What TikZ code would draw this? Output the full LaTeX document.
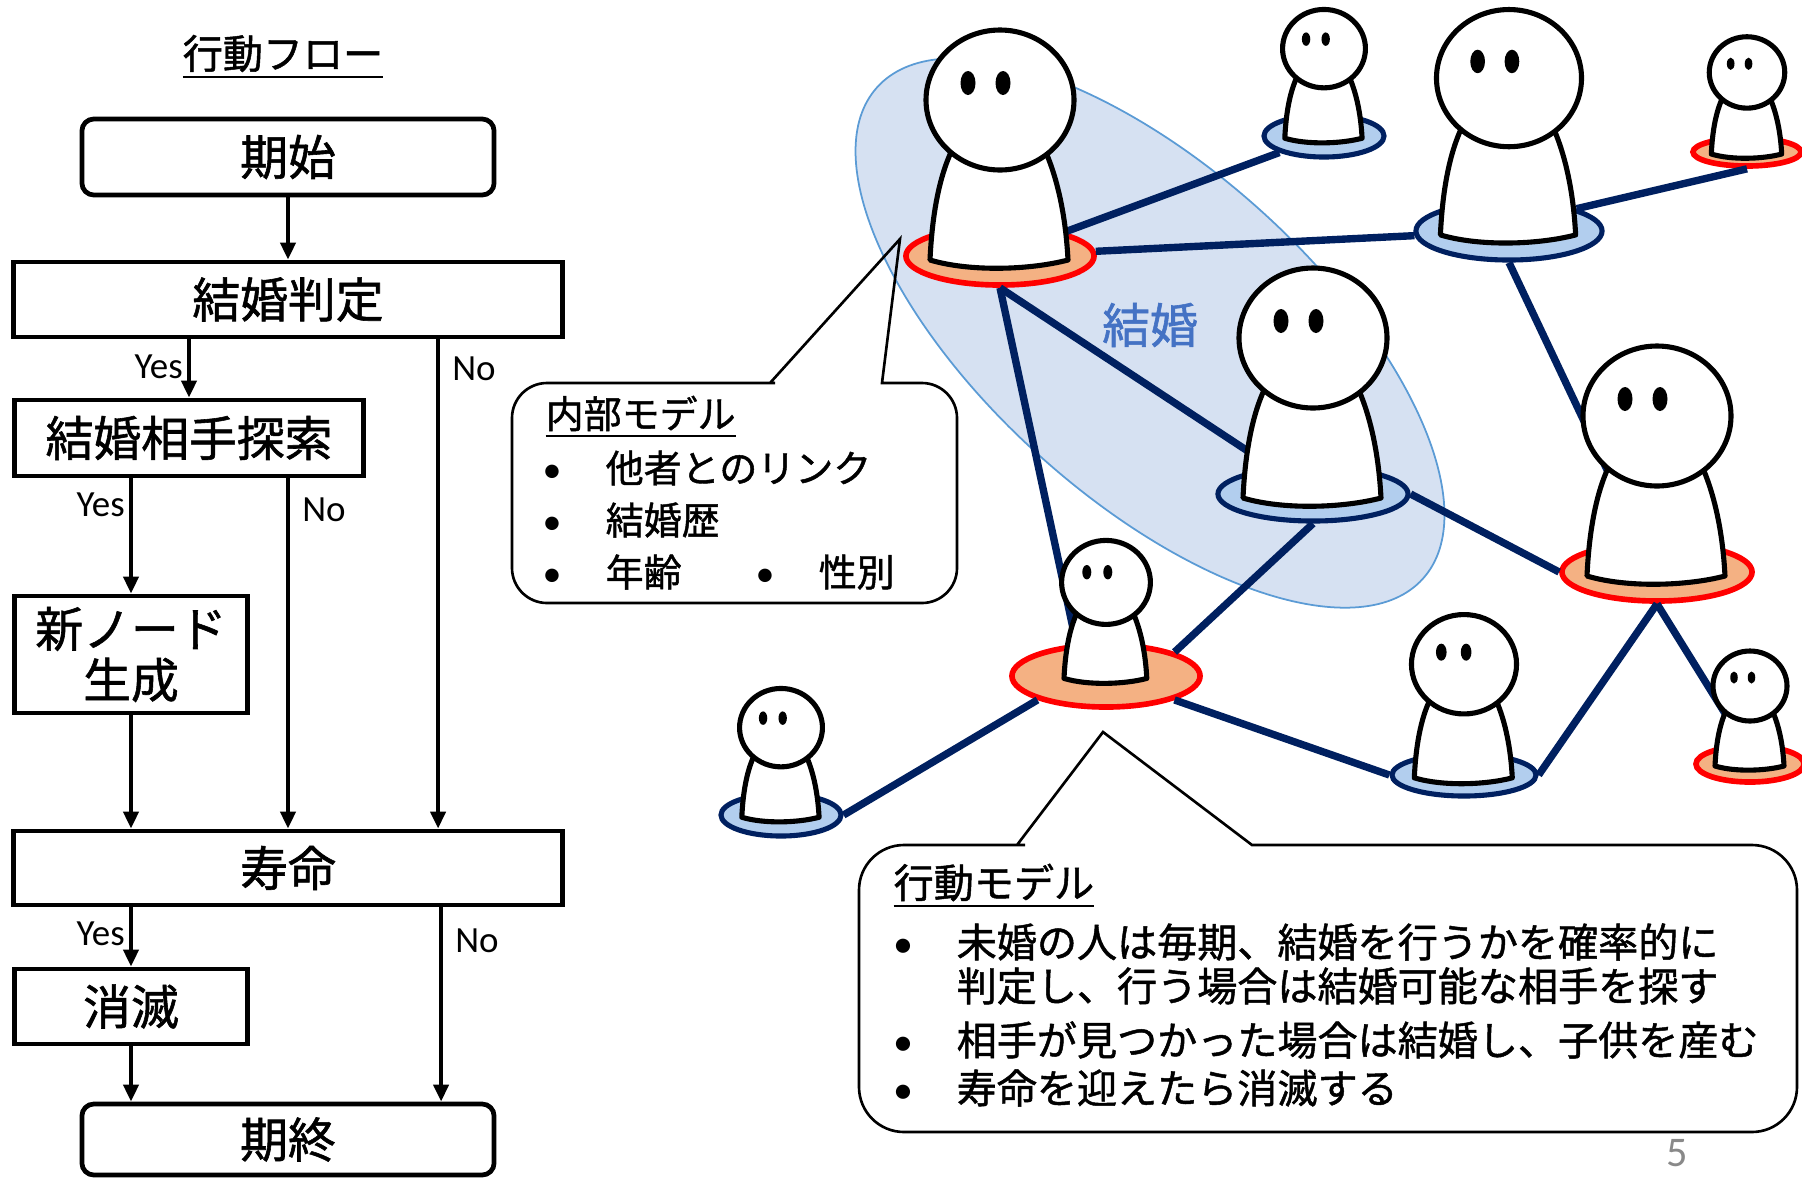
\documentclass[tikz,border=0pt]{standalone}
\usepackage{fontspec}
\setmainfont{Noto Sans CJK JP}[FakeBold=1.2]
\newfontfamily\calfont{Carlito}
\usepackage{tikz}
\usetikzlibrary{arrows.meta, shapes.geometric, calc}

\pgfdeclarelayer{front}
\pgfsetlayers{main,front}

\definecolor{navy}{RGB}{0,32,96}
\definecolor{baseblue}{RGB}{178,206,238}
\definecolor{baseorange}{RGB}{244,177,131}
\definecolor{couplefill}{RGB}{214,225,242}
\definecolor{coupleline}{RGB}{91,155,213}
\definecolor{coupletext}{RGB}{68,114,196}
\definecolor{pagegray}{RGB}{137,137,137}

% 箇条書きの点
\newcommand{\blt}{\makebox[0.63cm][l]{\calfont\textbullet}}

% 人: 番号, x, y, 大きさ, 土台の半径 x, y, 土台のスタイル
\newcommand{\person}[7]{%
  \node[#7, minimum width=#5*0.02cm, minimum height=#6*0.02cm] (b#1) at (#2,#3) {};
  \begin{pgfonlayer}{front}
  \begin{scope}[shift={(#2,#3)}, scale=#4]
    \coordinate (n#1) at (-48,-98);
    \fill[white] (-70,4) .. controls (-68,-40) and (-61,-80) .. (-47,-108)
      -- (44,-108) .. controls (59,-75) and (66,-35) .. (68,4)
      .. controls (30,14) and (-30,16) .. (-70,4) -- cycle;
    \draw[outline] (-47,-108) .. controls (-61,-80) and (-68,-40) .. (-70,4)
      .. controls (-30,16) and (30,14) .. (68,4)
      .. controls (66,-35) and (59,-75) .. (44,-108);
    \draw[outline, fill=white] (0,-156) ellipse [x radius=74, y radius=70];
    \fill (-32,-173) ellipse [x radius=7.5, y radius=12];
    \fill (3,-173) ellipse [x radius=7.5, y radius=12];
  \end{scope}
  \end{pgfonlayer}}

\begin{document}
\begin{tikzpicture}[x=0.01cm, y=-0.01cm,
    flowbox/.style={draw, line width=1.35pt, align=center, inner sep=0pt,
      font=\fontsize{13.6}{14.5}\selectfont},
    flow/.style={line width=1.15pt, -{Triangle[length=0.17cm, width=0.15cm]}},
    yn/.style={font=\calfont\fontsize{10.5}{12}\selectfont, inner sep=1.2pt},
    link/.style={navy, line width=2.1pt},
    outline/.style={line width=1.45pt, line join=round},
    singlebase/.style={ellipse, draw=navy, fill=baseblue, line width=1.45pt, inner sep=0pt},
    marriedbase/.style={ellipse, draw=red, fill=baseorange, line width=1.6pt, inner sep=0pt},
    balloon/.style={line width=0.75pt},
    note/.style={anchor=west, inner sep=0pt, font=\fontsize{10.8}{13}\selectfont},
    note2/.style={anchor=west, inner sep=0pt, font=\fontsize{11.4}{13}\selectfont}]
  \useasboundingbox (0,0) rectangle (1802,1184);

  % フローチャート
  \node[font=\fontsize{11.4}{12}\selectfont] (title) at (283,57) {\underline{行動フロー}};
  \node[flowbox, rounded corners=0.12cm, minimum width=4.12cm, minimum height=0.76cm] (start) at (288,157) {期始};
  \node[flowbox, minimum width=5.49cm, minimum height=0.75cm] (judge) at (288,299.5) {結婚判定};
  \node[flowbox, minimum width=3.49cm, minimum height=0.76cm] (search) at (189,438) {結婚相手探索};
  \node[flowbox, minimum width=2.33cm, minimum height=1.17cm] (newnode) at (131,654.5) {新ノード\\生成};
  \node[flowbox, minimum width=5.49cm, minimum height=0.74cm] (life) at (288,868) {寿命};
  \node[flowbox, minimum width=2.33cm, minimum height=0.75cm] (vanish) at (131,1006.5) {消滅};
  \node[flowbox, rounded corners=0.12cm, minimum width=4.12cm, minimum height=0.71cm] (finish) at (288,1139.5) {期終};

  \draw[flow] (start) -- (judge);
  \draw[flow] (judge.south -| search) -- node[yn, left, pos=0.47] {Yes} (search);
  \draw[flow] ([xshift=1.5cm]judge.south) -- node[yn, right=0.08cm, pos=0.06] {No} ([xshift=1.5cm]life.north);
  \draw[flow] (search.south -| newnode) -- node[yn, left, pos=0.23] {Yes} (newnode);
  \draw[flow] (search.south -| life) -- node[yn, right=0.08cm, pos=0.09] {No} (life);
  \draw[flow] (newnode) -- (newnode |- life.north);
  \draw[flow] (life.south -| vanish) -- node[yn, left, pos=0.45] {Yes} (vanish);
  \draw[flow] ([xshift=1.53cm]life.south) -- node[yn, right=0.08cm, pos=0.17] {No} ([xshift=1.53cm]finish.north);
  \draw[flow] (vanish) -- (vanish |- finish.north);

  % 結婚の範囲
  \node[ellipse, rotate=-42, draw=coupleline, fill=couplefill, line width=0.5pt,
    minimum width=7.34cm, minimum height=3.3cm] (couple) at (1150,333) {};
  \node[font=\fontsize{13.6}{14}\selectfont, text=coupletext] (wed) at (1150,325) {結婚};

  % 人と土台
  \person{1}{1000}{256}{1}{94}{29}{marriedbase}
  \person{2}{1324}{136}{0.56}{60}{21}{singlebase}
  \person{3}{1509}{231}{0.98}{93}{29}{singlebase}
  \person{4}{1747}{152}{0.51}{54}{14}{marriedbase}
  \person{5}{1313}{494}{1}{95}{27}{singlebase}
  \person{6}{1657}{572}{1}{95}{29}{marriedbase}
  \person{7}{1106}{676}{0.6}{94}{31}{marriedbase}
  \person{8}{781}{815}{0.56}{60}{21}{singlebase}
  \person{9}{1464}{775}{0.71}{72}{21}{singlebase}
  \person{10}{1750}{764}{0.5}{54}{18}{marriedbase}

  % リンク
  \draw[link] (b1) -- (b2);
  \draw[link] (b1) -- (b3);
  \draw[link] (b1.south) -- (b5);
  \draw[link] (b1.south) -- ([xshift=-0.3cm]b7.north);
  \draw[link] (b3.north east) -- (b4.south);
  \draw[link] (b3.south) -- (n6);
  \draw[link] (b5.east) -- (b6.west);
  \draw[link] (b5.south) -- (b7.north east);
  \draw[link] (b7.south west) -- (b8.east);
  \draw[link] (b7.south east) -- (b9.west);
  \draw[link] (b9.east) -- (b6.south);
  \draw[link] (b6.south) -- (n10);

  % 吹き出し（内部モデル）
  \draw[balloon] (770,383) -- (900,239) -- (882,383) -- (920,383) [rounded corners=0.35cm]
    -- (957,383) -- (957,603) -- (512,603) -- (512,383) -- (740,383) [sharp corners] -- cycle;
  \node[note] (inner) at (545,417) {\underline{内部モデル}};
  \foreach \w [count=\i] in {他者とのリンク, 結婚歴, 年齢}
    \node[note] (inner\i) at (542,416+52*\i) {\blt\w};
  \node[note] (inner4) at (755,572) {\blt 性別};

  % 吹き出し（行動モデル）
  \draw[balloon] (1017,845) -- (1103,732) -- (1252,845) -- (1300,845) [rounded corners=0.45cm]
    -- (1797,845) -- (1797,1132) -- (859,1132) -- (859,845) -- (980,845) [sharp corners] -- cycle;
  \node[note2] (act) at (893,886) {\underline{行動モデル}};
  \node[note2] (act1) at (893,942) {\blt 未婚の人は毎期、結婚を行うかを確率的に};
  \node[note2] (act2) at (956,986) {判定し、行う場合は結婚可能な相手を探す};
  \node[note2] (act3) at (893,1040) {\blt 相手が見つかった場合は結婚し、子供を産む};
  \node[note2] (act4) at (893,1088) {\blt 寿命を迎えたら消滅する};

  % ページ番号
  \node[font=\calfont\fontsize{12}{14}\selectfont, text=pagegray] (page) at (1677,1153) {5};
\end{tikzpicture}
\end{document}
